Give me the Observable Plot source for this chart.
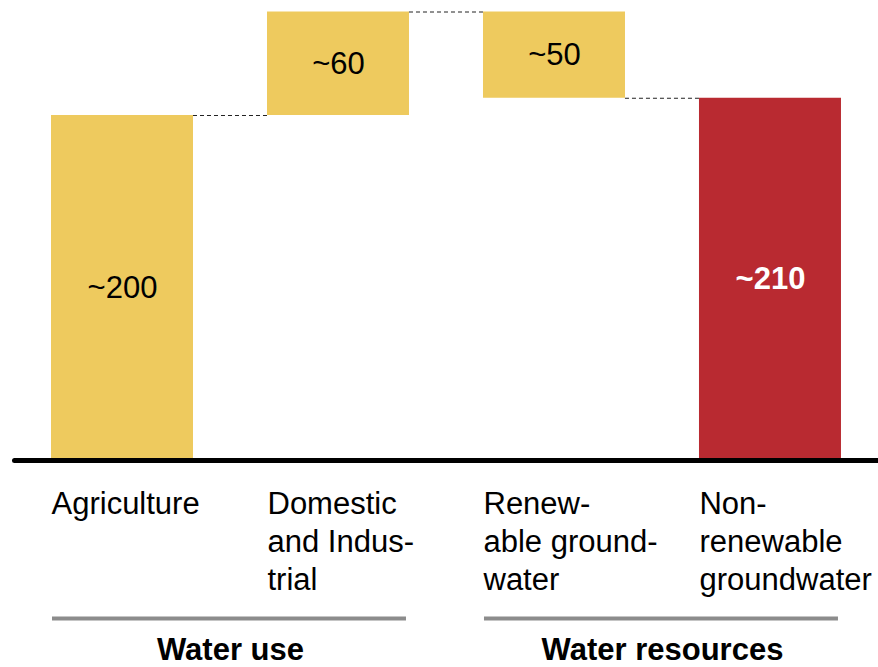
<!DOCTYPE html>
<html>
<head>
<meta charset="utf-8">
<script src="https://cdn.jsdelivr.net/npm/d3@7"></script>
<script src="https://cdn.jsdelivr.net/npm/@observablehq/plot@0.6"></script>
<style>
  html, body { margin: 0; padding: 0; background: #fff; overflow: hidden; }
  svg { display: block; }
</style>
</head>
<body>
<div id="chart"></div>
<script>
// Groundwater balance: water use stacks up, water resources step back down.
const categories = ["Agriculture", "Domestic and Industrial", "Renewable groundwater", "Non-renewable groundwater"];
const values = [200, 60, 50, 210];
const groups = ["Water use", "Water use", "Water resources", "Water resources"];
const tickLabels = ["Agriculture", "Domestic\nand Indus-\ntrial", "Renew-\nable ground-\nwater", "Non-\nrenewable\ngroundwater"];
const groupNames = ["Water use", "Water resources"];
const highlighted = "Non-renewable groundwater";

const YELLOW = "#eeca5e";
const RED = "#b92a31";
const FONT = "'Liberation Sans', Arial, Helvetica, sans-serif";

// Waterfall: uses raise the running total, resources lower it back to zero.
let running = 0;
const bars = categories.map((category, i) => {
  const up = groups[i] === "Water use";
  const y1 = running;
  running = up ? running + values[i] : running - values[i];
  return {category, group: groups[i], value: values[i], y1, y2: running};
});

// Dashed connectors between consecutive bars at the running level.
const connectors = bars.slice(0, -1).map((b, i) => ({from: b.category, to: bars[i + 1].category, level: b.y2}));

const groupData = groupNames.map(name => {
  const members = bars.filter(b => b.group === name);
  return {name, first: members[0].category, last: members[members.length - 1].category};
});

// Band layout shared with the plot's x scale.
const width = 878, height = 667;
const marginLeft = 12, marginRight = 0, marginTop = 0, marginBottom = 207;
const xOpts = {type: "band", domain: categories, paddingInner: 0.3426, paddingOuter: 0.176, align: 0.513, round: false};
const band = d3.scaleBand().domain(categories).range([marginLeft, width - marginRight])
  .paddingInner(xOpts.paddingInner).paddingOuter(xOpts.paddingOuter).align(xOpts.align);
const bw = band.bandwidth();
const step = band.step();

const valueLabel = d => "~" + d.value;
const midY = d => (d.y1 + d.y2) / 2;

const chart = Plot.plot({
  width, height, marginLeft, marginRight, marginTop, marginBottom,
  style: {fontFamily: FONT, fontSize: "31px", color: "#000", background: "#fff"},
  x: {...xOpts},
  y: {domain: [0, 266.67], axis: null},
  marks: [
    Plot.barY(bars, {x: "category", y1: "y1", y2: "y2", fill: d => d.category === highlighted ? RED : YELLOW}),
    Plot.ruleY(connectors, {x1: "from", x2: "to", y: "level", insetLeft: bw, insetRight: bw,
      stroke: "#222", strokeWidth: 1, strokeDasharray: "4,3"}),
    Plot.ruleY([0], {stroke: "#000", strokeWidth: 5, strokeLinecap: "round", insetLeft: 2.5}),
    Plot.text(bars.filter(d => d.category !== highlighted), {x: "category", y: midY, text: valueLabel,
      fontSize: 31, textAnchor: "middle", fill: "#000"}),
    Plot.text(bars.filter(d => d.category === highlighted), {x: "category", y: midY, text: valueLabel,
      fontSize: 31, textAnchor: "middle", fill: "#fff", fontWeight: "bold"}),
    Plot.axisX({tickSize: 0, tickPadding: 26, textAnchor: "start", dx: -bw / 2, lineAnchor: "top",
      lineHeight: 1.23, fontSize: 31, label: null,
      tickFormat: c => tickLabels[categories.indexOf(c)]}),
    Plot.ruleY(groupData, {x1: "first", x2: "last", y: 0, dy: 158, stroke: "#8c8c8c", strokeWidth: 4,
      insetLeft: 1, insetRight: 3}),
    Plot.text(groupData, {x: "first", y: 0, text: "name", dx: step / 2, dy: 177, lineAnchor: "top",
      textAnchor: "middle", fontWeight: "bold", fontSize: 31})
  ]
});

document.getElementById("chart").appendChild(chart);
</script>
</body>
</html>
